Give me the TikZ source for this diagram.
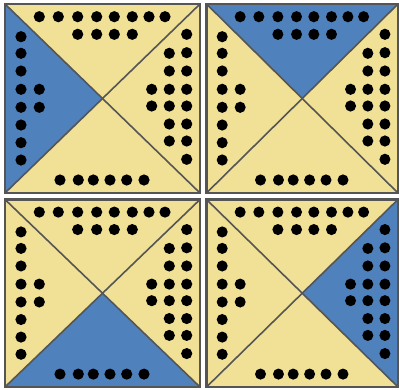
\documentclass[tikz,border=0pt]{standalone}
\definecolor{tileyellow}{RGB}{240,225,150}
\definecolor{tileblue}{RGB}{79,129,189}
\definecolor{tileedge}{RGB}{85,85,85}
\tikzset{
  tileedgeline/.style={draw=tileedge,line width=2.4pt},
  diagline/.style={draw=tileedge,line width=1.6pt},
  pip/.style={fill=black}
}
\newcommand\dotpattern{%
  \foreach \xx in {34.3,53.3,72.7,91.7,109.3,127.3,144,160} {\fill[pip] (\xx,12.7) circle (5.6);}
  \foreach \xx in {72.7,91.7,109.3,127.3} {\fill[pip] (\xx,30.3) circle (5.6);}
  \foreach \yy in {32.7,49.3,67,85.3,103.3,121,138.7,156} {\fill[pip] (16,\yy) circle (5.6);}
  \foreach \yy in {85.3,103.3} {\fill[pip] (34.3,\yy) circle (5.6);}
  \foreach \yy in {30.3,48.7,67,85.3,102,120,137,155.3} {\fill[pip] (181.7,\yy) circle (5.6);}
  \foreach \yy in {49.3,67,85.3,102,120,137} {\fill[pip] (164.3,\yy) circle (5.6);}
  \foreach \yy in {85.3,102} {\fill[pip] (146.7,\yy) circle (5.6);}
  \foreach \xx in {55,73.3,88.3,105,121.7,139} {\fill[pip] (\xx,176) circle (5.6);}
}
% #1,#2 origin; #3,#4 scale; #5 blue triangle
\newcommand\drawtile[5]{%
  \begin{scope}[shift={(#1,#2)},xscale=#3,yscale=#4]
    \coordinate (nw) at (0,0);
    \coordinate (ne) at (195,0);
    \coordinate (sw) at (0,189);
    \coordinate (se) at (195,189);
    \coordinate (c) at (97.5,94.5);
    \fill[tileyellow] (nw) rectangle (se);
    \fill[tileblue] #5 -- cycle;
    \draw[diagline] (nw) -- (se);
    \draw[diagline] (ne) -- (sw);
    \draw[tileedgeline] (nw) rectangle (se);
    \dotpattern
  \end{scope}
}
\begin{document}
\begin{tikzpicture}[x=1pt,y=-1pt]
  \useasboundingbox[fill=white] (0,0) rectangle (399,389);
  \drawtile{5}{4}{1}{1}{(nw) -- (c) -- (sw)}
  \drawtile{206.5}{4}{0.982}{1}{(nw) -- (ne) -- (c)}
  \drawtile{5}{199.5}{1}{0.992}{(sw) -- (se) -- (c)}
  \drawtile{206.5}{199.5}{0.982}{0.992}{(ne) -- (se) -- (c)}
\end{tikzpicture}
\end{document}
